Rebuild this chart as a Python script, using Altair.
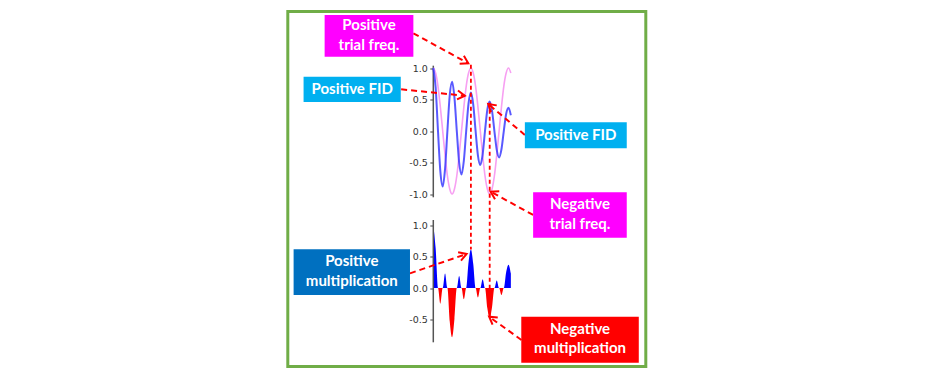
import math
import altair as alt
import pandas as pd

# ---------------- data ----------------
# time (in FID periods)
t = [0.0, 0.125, 0.25, 0.375, 0.5, 0.625, 0.75, 0.875,
     1.0, 1.125, 1.25, 1.375, 1.5, 1.625, 1.75, 1.875,
     2.0, 2.125, 2.25, 2.375, 2.5, 2.625, 2.75, 2.875,
     3.0, 3.125, 3.25, 3.375, 3.5, 3.625, 3.75, 3.875,
     4.0, 4.125]

# trial frequency (pink)
trial = [1.00, 0.92, 0.71, 0.38, 0.00, -0.38, -0.71, -0.92,
         -1.00, -0.92, -0.71, -0.38, 0.00, 0.38, 0.71, 0.92,
         1.00, 0.92, 0.71, 0.38, 0.00, -0.38, -0.71, -0.92,
         -1.00, -0.92, -0.71, -0.38, 0.00, 0.38, 0.71, 0.92,
         1.00, 0.92]

# decaying FID (blue)
fid = [1.00, 0.69, 0.00, -0.64, -0.88, -0.60, 0.00, 0.57,
       0.78, 0.53, 0.00, -0.50, -0.69, -0.47, 0.00, 0.44,
       0.61, 0.42, 0.00, -0.39, -0.54, -0.37, 0.00, 0.34,
       0.47, 0.32, 0.00, -0.30, -0.42, -0.29, 0.00, 0.27,
       0.37, 0.25]

# multiplication (lower panel)
product = [1.00, 0.63, 0.00, -0.25, 0.00, 0.23, 0.00, -0.53,
           -0.78, -0.49, 0.00, 0.19, 0.00, -0.18, 0.00, 0.41,
           0.61, 0.38, 0.00, -0.15, 0.00, 0.14, 0.00, -0.32,
           -0.47, -0.30, 0.00, 0.12, 0.00, -0.11, 0.00, 0.25,
           0.37, 0.23]

top_ticks = [1.0, 0.5, 0.0, -0.5, -1.0]
top_tick_labels = ["1.0", "0.5", "0.0", "-0.5", "-1.0"]
bottom_ticks = [1.0, 0.5, 0.0, -0.5]
bottom_tick_labels = ["1.0", "0.5", "0.0", "-0.5"]

# annotation boxes (t range, value range, panel)
box_labels = ["Positive\ntrial freq.", "Positive FID", "Positive FID",
              "Negative\ntrial freq.", "Positive\nmultiplication",
              "Negative\nmultiplication"]
box_fills = ["#FF00FF", "#00B0F0", "#00B0F0", "#FF00FF", "#0070C0", "#FF0000"]
box_t1 = [-5.78, -6.90, 4.87, 5.31, -7.43, 4.68]
box_t2 = [-1.06, -1.73, 10.29, 10.29, -1.24, 10.93]
box_v1 = [1.18, 0.46, -0.275, -1.694, -0.111, -1.186]
box_v2 = [1.84, 0.862, 0.138, -0.973, 0.614, -0.456]
box_panel = ["top", "top", "top", "top", "bottom", "bottom"]

# arrows: start (t, v) -> tip (t, v), panel
arr_t0 = [-1.06, -1.71, 4.87, 5.31, -1.24, 4.69]
arr_v0 = [1.551, 0.662, -0.063, -1.333, 0.233, -0.825]
arr_t1 = [1.86, 1.68, 2.92, 3.05, 1.77, 2.97]
arr_v1 = [1.075, 0.560, 0.429, -0.963, 0.540, -0.456]
arr_panel = ["top", "top", "top", "top", "bottom", "bottom"]

# vertical dashed guides: t, from top-panel value to bottom-panel value
guide_t = [2.0, 3.0]
guide_top_v = [1.05, 0.45]
guide_bottom_v = [0.61, -0.47]

# ---------------- layout ----------------
BOTTOM_ZERO = -2.492          # where the lower panel's 0 sits on the shared scale
T_DOMAIN = [-7.739, 11.303]
V_DOMAIN = [-3.738, 1.897]
W, H = 358, 355
RED = "#FF0000"
LINE_H = 19.5


def shared(v, panel):
    return v + (BOTTOM_ZERO if panel == "bottom" else 0.0)


xs = alt.Scale(domain=T_DOMAIN, nice=False, zero=False)
ys = alt.Scale(domain=V_DOMAIN, nice=False, zero=False)

# axis ticks on the shared scale + label expression
tick_vals = top_ticks + [v + BOTTOM_ZERO for v in bottom_ticks]
tick_labs = top_tick_labels + bottom_tick_labels
expr = "''"
for v, lab in zip(reversed(tick_vals), reversed(tick_labs)):
    expr = f"abs(datum.value - ({v:.3f})) < 0.01 ? '{lab}' : ({expr})"

YAXIS = alt.Axis(values=tick_vals, labelExpr=expr, domain=False,
                 grid=False, ticks=True, tickSize=3.5, tickColor="#444",
                 tickWidth=1, labelFont="DejaVu Sans", labelFontSize=9.5,
                 labelColor="#333", labelPadding=2.5, offset=-145.5,
                 orient="left", title=None, labels=True)


def X(field):
    return alt.X(field, scale=xs, axis=None)


def Y(field):
    return alt.Y(field, scale=ys, axis=YAXIS, title=None)


lines_df = pd.DataFrame({"t": t, "trial": trial, "fid": fid})
prod_df = pd.DataFrame({"t": t, "p": product})

pink = alt.Chart(lines_df).mark_line(
    color="#f7a0f2", strokeWidth=1.6, interpolate="monotone"
).encode(x=X("t:Q"), y=Y("trial:Q"))

blue = alt.Chart(lines_df).mark_line(
    color="#3030ff", strokeWidth=2, opacity=0.8, interpolate="monotone"
).encode(x=X("t:Q"), y=Y("fid:Q"))

pos_area = alt.Chart(prod_df).transform_calculate(
    pos=f"max(datum.p, 0) + ({BOTTOM_ZERO})"
).mark_area(color="#0000FF", interpolate="monotone").encode(
    x=X("t:Q"), y=Y("pos:Q"), y2=alt.datum(BOTTOM_ZERO),
)

neg_area = alt.Chart(prod_df).transform_calculate(
    neg=f"min(datum.p, 0) + ({BOTTOM_ZERO})"
).mark_area(color="#FF0000", interpolate="monotone").encode(
    x=X("t:Q"), y=Y("neg:Q"), y2=alt.datum(BOTTOM_ZERO),
)

spine_df = pd.DataFrame({
    "t": [0.0, 0.0],
    "v1": [1.037, shared(1.079, "bottom")],
    "v2": [-1.052, shared(-0.862, "bottom")],
})
spines = alt.Chart(spine_df).mark_rule(color="#555", strokeWidth=1.5).encode(
    x=X("t:Q"), y=Y("v1:Q"), y2="v2:Q",
)

guide_df = pd.DataFrame({
    "t": guide_t,
    "v1": guide_top_v,
    "v2": [shared(v, "bottom") for v in guide_bottom_v],
})
guides = alt.Chart(guide_df).mark_rule(
    color=RED, strokeWidth=1.8, strokeDash=[4, 3]
).encode(x=X("t:Q"), y=Y("v1:Q"), y2="v2:Q")

# arrows
sx = W / (T_DOMAIN[1] - T_DOMAIN[0])
sy = H / (V_DOMAIN[1] - V_DOMAIN[0])
arrow_rows, tip_rows = [], []
for i in range(len(arr_t0)):
    v0 = shared(arr_v0[i], arr_panel[i])
    v1 = shared(arr_v1[i], arr_panel[i])
    arrow_rows.append({"id": i, "ord": 0, "t": arr_t0[i], "v": v0})
    arrow_rows.append({"id": i, "ord": 1, "t": arr_t1[i], "v": v1})
    dx = (arr_t1[i] - arr_t0[i]) * sx
    dy = -(v1 - v0) * sy
    ang = math.degrees(math.atan2(dy, dx)) % 360
    tip_rows.append({"t": arr_t1[i], "v": v1, "ang": ang})
arrow_df = pd.DataFrame(arrow_rows)
tip_df = pd.DataFrame(tip_rows)

arrows = alt.Chart(arrow_df).mark_line(
    color=RED, strokeWidth=2, strokeDash=[6, 4]
).encode(x=X("t:Q"), y=Y("v:Q"), detail="id:N", order="ord:Q")

tips = alt.Chart(tip_df).mark_point(
    shape="M-1,-0.6L0,0L-1,0.6", filled=False, color=RED,
    strokeWidth=2, size=220, opacity=1
).encode(x=X("t:Q"), y=Y("v:Q"), angle=alt.Angle("ang:Q", scale=None))

box_df = pd.DataFrame({
    "label": box_labels,
    "fill": box_fills,
    "t1": box_t1,
    "t2": box_t2,
    "v1": [shared(v, p) for v, p in zip(box_v1, box_panel)],
    "v2": [shared(v, p) for v, p in zip(box_v2, box_panel)],
})
box_df["tc"] = (box_df["t1"] + box_df["t2"]) / 2
box_df["vc"] = (box_df["v1"] + box_df["v2"]) / 2
box_df["two"] = box_df["label"].str.contains("\n")

boxes = alt.Chart(box_df).mark_rect().encode(
    x=X("t1:Q"), x2="t2:Q", y=Y("v1:Q"), y2="v2:Q",
    color=alt.Color("fill:N", scale=None),
)

text_style = dict(font="Lato", fontWeight="bold", fontSize=15, color="white",
                  lineBreak="\n", lineHeight=LINE_H, align="center",
                  baseline="middle")

texts_one = alt.Chart(box_df[~box_df["two"]]).mark_text(**text_style).encode(
    x=X("tc:Q"), y=Y("vc:Q"), text="label:N",
)
texts_two = alt.Chart(box_df[box_df["two"]]).mark_text(
    dy=-LINE_H / 2 - 1, **text_style
).encode(x=X("tc:Q"), y=Y("vc:Q"), text="label:N")

chart = alt.layer(
    pos_area, neg_area, spines, pink, blue, guides, arrows, tips, boxes,
    texts_one, texts_two
).properties(
    width=W, height=H,
    padding={"left": 287.8, "top": 11.5, "right": 288.2, "bottom": 11.5},
    autosize=alt.AutoSizeParams(type="none"),
    background="white",
).configure_view(stroke="#70AD47", strokeWidth=3)

chart.save("out.html", embed_options={"renderer": "svg", "actions": False})
